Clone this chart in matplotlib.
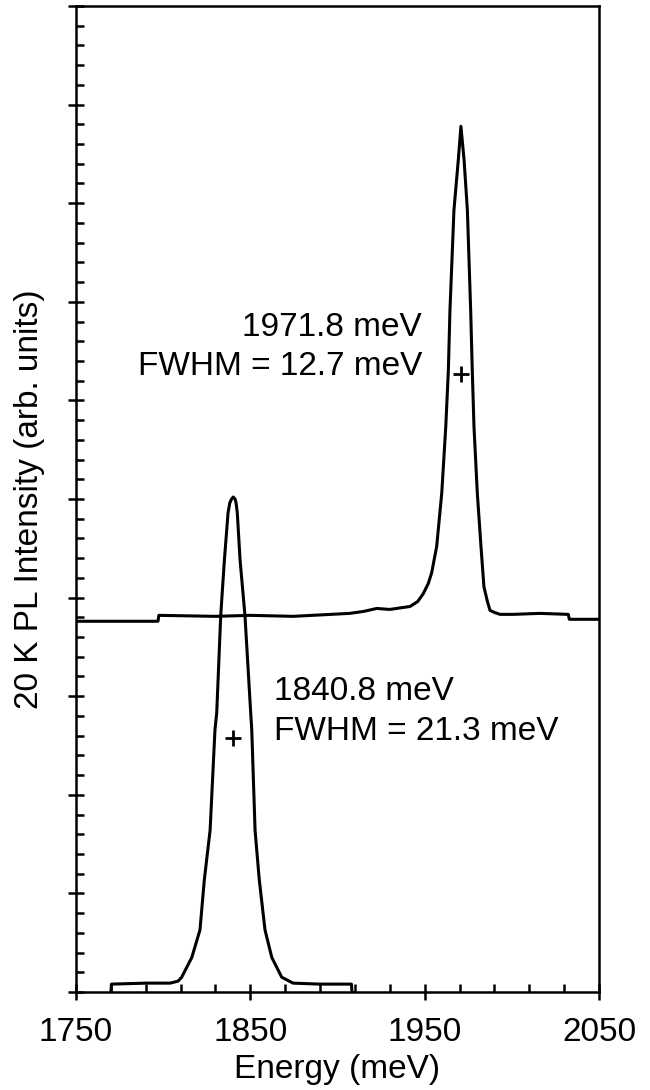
import numpy as np
import matplotlib
matplotlib.use('Agg')
import matplotlib.pyplot as plt
from matplotlib.ticker import NullFormatter

plt.rcParams['font.family'] = ['Liberation Sans', 'DejaVu Sans']

# spectrum with the 1971.8 meV line (offset baseline)
upper_E = [1750, 1797, 1797.5, 1830, 1850, 1874.6, 1907, 1915, 1922.5, 1930,
           1941.6, 1946, 1949.2, 1952, 1954, 1956.9, 1959.8, 1962.1, 1963.6, 1964.5,
           1966.8, 1969.3, 1970.8, 1972.6, 1974.5, 1976.4, 1977.3, 1978.3, 1980.2, 1982.3,
           1984, 1986, 1987.5, 1990, 1993.2, 2000.8, 2016, 2032.4, 2033, 2050]
upper_I = [3.76, 3.76, 3.82, 3.81, 3.82, 3.81, 3.84, 3.86, 3.89, 3.88,
           3.91, 3.96, 4.04, 4.14, 4.25, 4.52, 5.06, 5.73, 6.31, 6.91,
           7.93, 8.44, 8.78, 8.44, 7.93, 6.91, 6.31, 5.73, 5.06, 4.52,
           4.11, 3.96, 3.87, 3.85, 3.83, 3.83, 3.84, 3.83, 3.78, 3.78]

# spectrum with the 1840.8 meV line
lower_E = [1770, 1770.3, 1790, 1804, 1808.5, 1810.6, 1816.4, 1821.1, 1823.6, 1826.9,
           1829.7, 1830.7, 1833.0, 1835.1, 1837.2, 1838.2, 1839.2, 1840.2, 1841.2, 1841.8,
           1842.5, 1844.1, 1846.9, 1850.2, 1850.8, 1852.7, 1855.1, 1858.4, 1862.3, 1868.0,
           1874.5, 1890, 1908, 1908.3]
lower_I = [0, 0.08, 0.09, 0.09, 0.11, 0.15, 0.35, 0.63, 1.14, 1.64,
           2.66, 2.83, 3.82, 4.38, 4.86, 4.96, 5.00, 5.02, 5.00, 4.96,
           4.86, 4.38, 3.82, 2.83, 2.66, 1.64, 1.14, 0.63, 0.35, 0.15,
           0.09, 0.08, 0.08, 0]

# peak centre markers at half maximum
mark_E = [1840.3, 1971.0]
mark_I = [2.58, 6.27]

xticks = [1750, 1850, 1950, 2050]

fig = plt.figure(figsize=(6.5, 10.9), dpi=100)
ax = fig.add_axes([0.117, 0.0899, 0.8045, 0.9046])

ax.plot(upper_E, upper_I, '-', color='k', lw=2.2)
ax.plot(lower_E, lower_I, '-', color='k', lw=2.2)
ax.plot(mark_E, mark_I, '+', color='k', ms=12, mew=2, ls='none')

fs = 24
ax.text(1948.5, 6.65, '1971.8 meV', ha='right', va='baseline', fontsize=fs)
ax.text(1948.5, 6.26, 'FWHM = 12.7 meV', ha='right', va='baseline', fontsize=fs)
ax.text(1863.6, 2.96, '1840.8 meV', ha='left', va='baseline', fontsize=fs)
ax.text(1863.6, 2.56, 'FWHM = 21.3 meV', ha='left', va='baseline', fontsize=fs)

ax.set_xlim(1750, 2050)
ax.set_ylim(0, 10)
ax.set_xticks(xticks)
ax.set_xticks(np.arange(1750, 2051, 20), minor=True)
ax.set_yticks(np.arange(0, 10.01, 1))
ax.set_yticks(np.arange(0, 10.01, 0.2), minor=True)
ax.yaxis.set_major_formatter(NullFormatter())

ax.tick_params(which='major', direction='inout', length=12, width=1.8,
               labelsize=fs, top=False, right=False)
ax.tick_params(which='minor', direction='in', length=5.5, width=1.8,
               top=False, right=False)
ax.tick_params(axis='x', which='major', pad=12)
ax.tick_params(axis='y', which='major', pad=2)
for sp in ax.spines.values():
    sp.set_linewidth(1.8)

ax.set_xlabel('Energy (meV)', fontsize=fs, labelpad=4)
ax.set_ylabel('20 K PL Intensity (arb. units)', fontsize=fs, labelpad=14)

plt.savefig('out.png', dpi=100)
